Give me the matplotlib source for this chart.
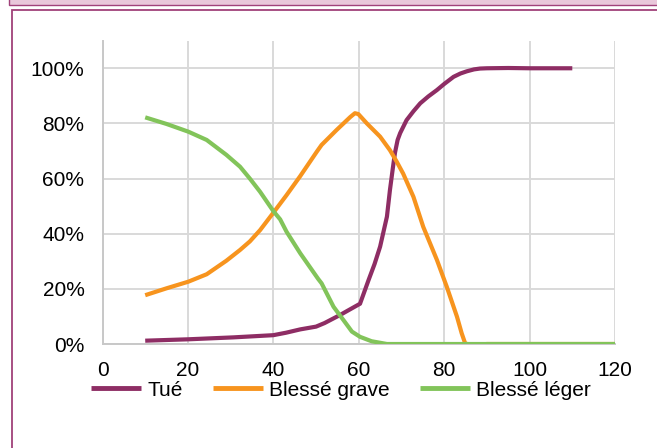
import matplotlib
matplotlib.use("Agg")
import matplotlib.pyplot as plt
from matplotlib.patches import Rectangle

# values (x = vitesse, y = share in %)
tue_x = [10, 20, 30.6, 40, 43, 46.3, 50, 52, 55.6, 58, 60.3, 62.3, 63.7, 65, 66.6,
         67.3, 68, 68.5, 69.1, 69.7, 70.4, 71.2, 72.8, 74.4, 76.3, 78.3, 80,
         82.2, 83.8, 85.3, 87, 88.4, 90, 95, 100, 110]
tue_y = [1.2, 1.7, 2.4, 3.2, 4.1, 5.3, 6.3, 7.6, 10.5, 12.6, 14.6, 23.2, 29, 35.3, 46.2,
         55.8, 64, 69.5, 74, 76.5, 78.7, 81.2, 84.4, 87.3, 89.8, 92.1, 94.3,
         96.9, 98.1, 98.9, 99.6, 99.9, 100, 100.1, 100, 100]

grave_x = [10, 15, 20.1, 24.4, 29, 32.2, 34.5, 36.9, 40, 43.1, 46.3, 50.2, 51.3,
           54.8, 58, 59.1, 59.9, 61.9, 65, 67.3, 68.9, 70.4, 72.8, 75.1, 78.3,
           80.6, 83, 84.1, 84.9, 86, 88, 90, 120]
grave_y = [17.7, 20.2, 22.6, 25.3, 30.2, 34.1, 37.2, 41.3, 47.6, 54, 60.9, 69.8,
           72.2, 77.6, 82.3, 83.7, 83.4, 80, 75.2, 70.3, 66.1, 61.8, 53.4, 42.5,
           30.5, 20.8, 9.9, 3.9, 0.3, -0.4, -0.4, 0, 0]

leger_x = [10, 15, 20.1, 24.4, 29, 32.2, 34.5, 36.9, 40, 41.6, 43.1, 46.3, 50.5,
           51.3, 54.1, 56.5, 58.4, 60.3, 63, 66.6, 120]
leger_y = [82.2, 79.8, 77, 74, 68.6, 64.3, 60, 55.2, 48.2, 45.2, 40.7, 32.9, 23.6,
           22, 13.5, 8.5, 4.5, 2.6, 1, 0, 0]

x_ticks = [0, 20, 40, 60, 80, 100, 120]
y_ticks = [0, 20, 40, 60, 80, 100]
y_labels = ["0%", "20%", "40%", "60%", "80%", "100%"]

purple = "#8E2D64"
orange = "#F7941E"
green = "#82C45A"
frame = "#A0417A"
grid = "#D9D9D9"

plt.rcParams["font.family"] = ["Liberation Sans", "DejaVu Sans"]

W, H = 657, 448
fig = plt.figure(figsize=(W / 100, H / 100), dpi=100)
fig.patch.set_facecolor("white")

# outer frames, kept behind the axes
fig.add_artist(Rectangle((8.7 / W, 1 - 4.7 / H), 1.2, 0.2, transform=fig.transFigure,
                         facecolor="#E9C7DA", edgecolor=frame, lw=1.0, zorder=-5))
fig.add_artist(Rectangle((11.8 / W, -0.2), 1.2, 1.2 - 10.2 / H, transform=fig.transFigure,
                         facecolor="white", edgecolor=frame, lw=1.3, zorder=-5))

ax = fig.add_axes([102.5 / W, (H - 344) / H, 512.5 / W, (344 - 40.7) / H])
ax.set_facecolor("none")

kw = dict(lw=3, solid_capstyle="butt", solid_joinstyle="round")
ax.plot(tue_x, tue_y, color=purple, label="Tué", zorder=3, **kw)
ax.plot(grave_x, grave_y, color=orange, label="Blessé grave", zorder=3, **kw)
ax.plot(leger_x, leger_y, color=green, label="Blessé léger", zorder=4, **kw)

ax.set_xlim(0, 120)
ax.set_ylim(0, 110)
ax.set_xticks(x_ticks)
ax.set_yticks(y_ticks)
ax.set_yticklabels(y_labels)
ax.tick_params(length=0, labelsize=15, colors="black")
ax.tick_params(axis="y", pad=13)
ax.tick_params(axis="x", pad=12)
ax.grid(True, color=grid, lw=1.4, zorder=0)
ax.set_axisbelow(True)
for s in ["top", "right"]:
    ax.spines[s].set_visible(False)
for s in ["left", "bottom"]:
    ax.spines[s].set_color("#C8C8C8")
    ax.spines[s].set_linewidth(1.4)

leg = fig.legend(loc="center", bbox_to_anchor=(341 / W, (H - 390) / H), ncol=3,
                 frameon=False, fontsize=15, handlelength=2.4, handletextpad=0.3,
                 columnspacing=1.45)
for line in leg.get_lines():
    line.set_linewidth(3.5)

fig.savefig("out.png", dpi=100)
